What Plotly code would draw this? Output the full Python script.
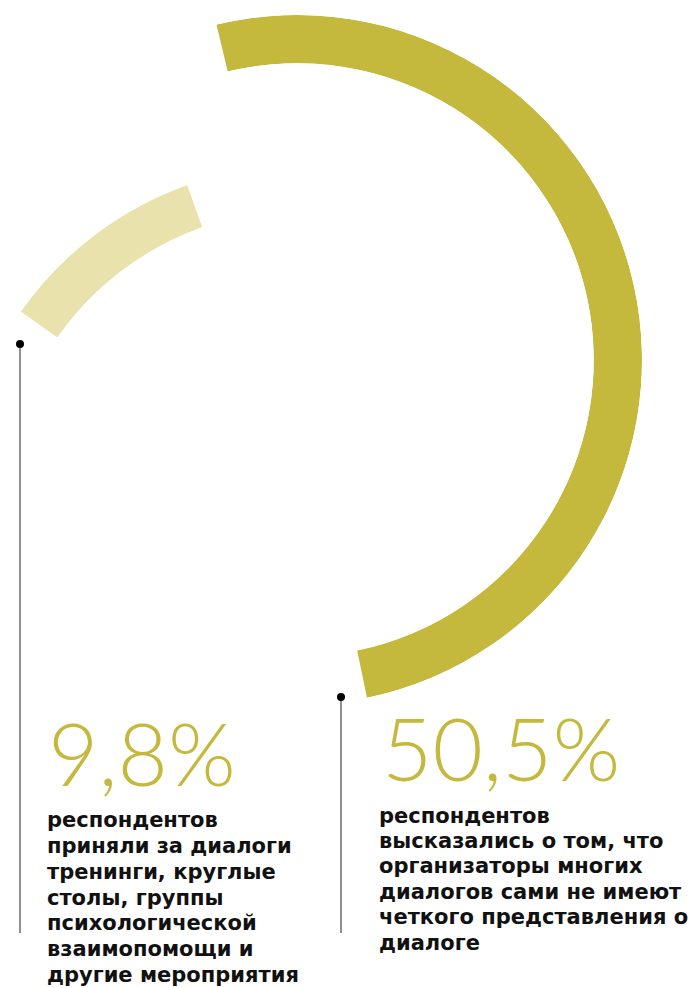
import math
import plotly.graph_objects as go

# ---- data ----
labels = ["9,8%", "50,5%"]
shares = [9.8, 50.5]
text_left = [
    "респондентов",
    "приняли за диалоги",
    "тренинги, круглые",
    "столы, группы",
    "психологической",
    "взаимопомощи и",
    "другие мероприятия",
]
text_right = [
    "респондентов",
    "высказались о том, что",
    "организаторы многих",
    "диалогов сами не имеют",
    "четкого представления о",
    "диалоге",
]

# ---- style / layout (pixel positions given in page coordinates) ----
PAGE_OFF = 8                 # default body margin of the html page
W, H = 690, 980              # figure size so that page is 698x988
OLIVE = "#c4b93d"
LIGHT = "#e9e2ad"
colors = [LIGHT, OLIVE]
start_deg = [-54.9, -13.5]          # compass angle where each arc starts
centers = [(303, 510), (297, 360)]  # page px centre of each ring
R_outer = [345, 345]
holes = [0.870, 0.860]


def px(x):
    return (x - PAGE_OFF) / W


def py(y):
    return 1 - (y - PAGE_OFF) / H


def sector_bbox(s0, s1):
    arc = s1 - s0
    a0 = s0 % 360
    a1 = a0 + arc
    c = lambda a: math.cos(math.radians(a))
    s = lambda a: math.sin(math.radians(a))
    ax0, ay0, ax1, ay1 = c(a0), s(a0), c(a1), s(a1)
    if (a0 <= 180 and a1 >= 180) or (a0 > 180 and a1 >= 540):
        x0 = -1
    elif ax0 >= 0 and ax1 >= 0:
        x0 = 0
    else:
        x0 = min(ax0, ax1)
    if (a0 <= 270 and a1 >= 270) or (a0 > 270 and a1 >= 630):
        y0 = -1
    elif ay0 >= 0 and ay1 >= 0:
        y0 = 0
    else:
        y0 = min(ay0, ay1)
    if (a0 <= 0 and a1 >= 0) or a1 >= 360:
        x1 = 1
    elif ax0 <= 0 and ax1 <= 0:
        x1 = 0
    else:
        x1 = max(ax0, ax1)
    if (a0 <= 90 and a1 >= 90) or (a0 > 90 and a1 >= 450):
        y1 = 1
    elif ay0 <= 0 and ay1 <= 0:
        y1 = 0
    else:
        y1 = max(ay0, ay1)
    return x0, y0, x1, y1


fig = go.Figure()
polar_layouts = {}
for i, (share, col) in enumerate(zip(shares, colors)):
    width = share * 3.6
    st = start_deg[i]
    en = st + width
    s0 = 90 - en - 0.3
    s1 = 90 - st + 0.3
    x0, y0, x1, y1 = sector_bbox(s0, s1)
    cx, cy = centers[i]
    R = R_outer[i]
    left = cx + R * x0
    right = cx + R * x1
    top = cy - R * y1
    bottom = cy - R * y0
    name = "polar" if i == 0 else f"polar{i+1}"
    polar_layouts[name] = dict(
        domain=dict(x=[px(left), px(right)], y=[py(bottom), py(top)]),
        sector=[s0, s1],
        hole=holes[i],
        bgcolor="rgba(0,0,0,0)",
        radialaxis=dict(range=[0, 1], visible=False, showgrid=False),
        angularaxis=dict(rotation=90, direction="clockwise", visible=False,
                         showgrid=False, showline=False, ticks=""),
    )
    fig.add_trace(go.Barpolar(
        r=[1], theta=[st + width / 2], width=[width],
        marker=dict(color=col, line=dict(width=0)),
        subplot=name, hoverinfo="skip", showlegend=False,
    ))

fig.update_layout(**polar_layouts)

# leader lines with dots
LINE = "#555555"
leaders = [(20, 344, 933), (341, 697, 933)]
shapes = []
for x, yt, yb in leaders:
    shapes.append(dict(type="line", xref="paper", yref="paper",
                       x0=px(x), x1=px(x), y0=py(yt), y1=py(yb),
                       line=dict(color=LINE, width=1.3)))
    shapes.append(dict(type="circle", xref="paper", yref="paper",
                       x0=px(x - 4), x1=px(x + 4),
                       y0=py(yt + 4), y1=py(yt - 4),
                       fillcolor="#000000", line=dict(width=0)))

annotations = []
NUM_SIZE = 87
num_pos = [(47, 699), (381, 694)]
for i in range(2):
    annotations.append(dict(
        text=labels[i], xref="paper", yref="paper",
        x=px(num_pos[i][0]), y=py(num_pos[i][1]),
        xanchor="left", yanchor="top", showarrow=False,
        borderpad=0,
        font=dict(family="Lato", size=NUM_SIZE, color=OLIVE, weight=300),
    ))

BODY_SIZE = 21
body_cfg = [(text_left, 46, 821.0, 25.9), (text_right, 378, 816.7, 25.4)]
for lines, x, y0c, step in body_cfg:
    for k, line in enumerate(lines):
        yc = y0c + k * step
        annotations.append(dict(
            text=line, xref="paper", yref="paper",
            x=px(x), y=py(yc - 0.72 * BODY_SIZE + 1),
            xanchor="left", yanchor="top", align="left", showarrow=False,
            borderpad=0,
            font=dict(family="DejaVu Sans", size=BODY_SIZE, color="#111111",
                      weight="bold"),
        ))

fig.update_layout(
    width=W, height=H, autosize=False,
    margin=dict(l=0, r=0, t=0, b=0),
    paper_bgcolor="white", plot_bgcolor="white",
    shapes=shapes, annotations=annotations,
    showlegend=False,
)

fig.write_html("out.html")
